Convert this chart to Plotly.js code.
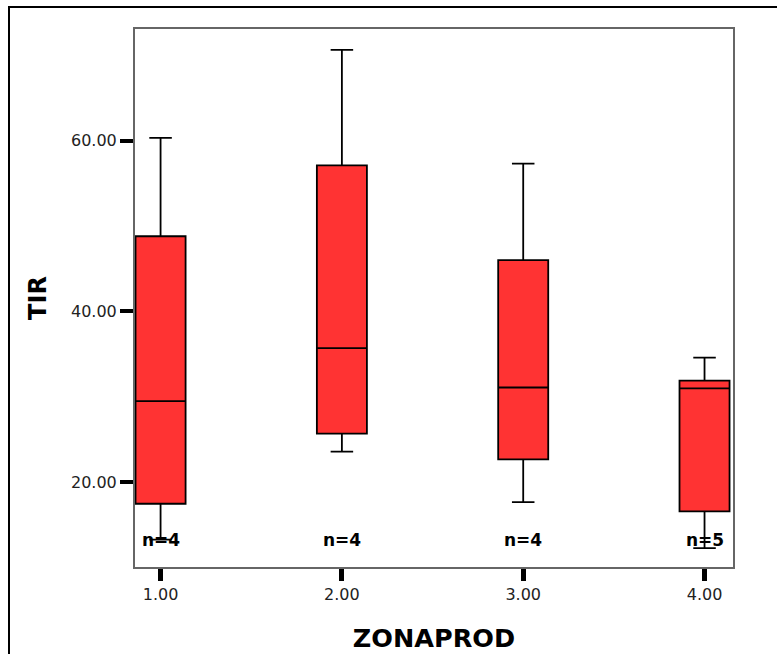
<!DOCTYPE html>
<html>
<head>
<meta charset="utf-8">
<script src="https://cdn.plot.ly/plotly-3.0.1.min.js"></script>
<style>
  html, body { margin: 0; padding: 0; background: #fff; overflow: hidden; }
  #chart { width: 777px; height: 654px; position: absolute; left: 0; top: 0; }
  #frame { position: absolute; left: 8px; top: 6px; width: 820px; height: 700px;
           border-left: 2px solid #000; border-top: 2px solid #000; pointer-events: none; }
</style>
</head>
<body>
<div id="chart"></div>
<div id="frame"></div>
<script>
// Categories (ZONAPROD)
const categories = [1, 2, 3, 4];
const tickLabels = ["1.00", "2.00", "3.00", "4.00"];
// Box statistics for TIR
const lowerWhisker = [13.3, 23.6, 17.7, 12.3];
const q1Values     = [17.5, 25.7, 22.7, 16.6];
const medianValues = [29.5, 35.7, 31.1, 31.0];
const q3Values     = [48.8, 57.1, 46.0, 31.9];
const upperWhisker = [60.3, 70.6, 57.3, 34.6];
// Group sizes
const nLabels = ["n=4", "n=4", "n=4", "n=5"];
const yTickVals = [20, 40, 60];
const yTickText = ["20.00", "40.00", "60.00"];

const trace = {
  type: 'box',
  x: categories,
  q1: q1Values,
  median: medianValues,
  q3: q3Values,
  lowerfence: lowerWhisker,
  upperfence: upperWhisker,
  width: 0.276,
  whiskerwidth: 0.45,
  fillcolor: '#ff3333',
  line: { color: '#000000', width: 1.8 },
  boxpoints: false,
  hoverinfo: 'skip',
  showlegend: false
};

const annotations = categories.map((c, i) => ({
  x: c, y: 13.3, xref: 'x', yref: 'y',
  text: '<b>' + nLabels[i] + '</b>', showarrow: false,
  font: { family: 'DejaVu Sans', size: 17, color: '#000' },
  xanchor: 'center', yanchor: 'middle'
}));

const layout = {
  width: 777, height: 654,
  margin: { l: 135, r: 44, t: 29, b: 87, pad: 0 },
  paper_bgcolor: '#ffffff',
  plot_bgcolor: '#ffffff',
  showlegend: false,
  xaxis: {
    type: 'linear',
    range: [0.859, 4.157],
    tickvals: categories,
    ticktext: tickLabels,
    ticks: 'outside', ticklen: 12, tickwidth: 5, tickcolor: '#000',
    showline: true, mirror: true, linecolor: '#666', linewidth: 2,
    showgrid: false, zeroline: false,
    tickfont: { family: 'DejaVu Sans', size: 16, color: '#222' },
    title: { text: '<b>ZONAPROD</b>', standoff: 26,
             font: { family: 'DejaVu Sans', size: 25.5, color: '#000' } }
  },
  yaxis: {
    range: [10.1, 73.05],
    tickvals: yTickVals,
    ticktext: yTickText,
    ticks: 'outside', ticklen: 13, tickwidth: 4, tickcolor: '#000',
    showline: true, mirror: true, linecolor: '#666', linewidth: 2,
    showgrid: false, zeroline: false,
    tickfont: { family: 'DejaVu Sans', size: 16, color: '#222' },
    title: { text: '<b>TIR</b>', standoff: 18,
             font: { family: 'DejaVu Sans', size: 24, color: '#000' } }
  },
  annotations: annotations
};

Plotly.newPlot('chart', [trace], layout, { displayModeBar: false, staticPlot: true });
</script>
</body>
</html>
